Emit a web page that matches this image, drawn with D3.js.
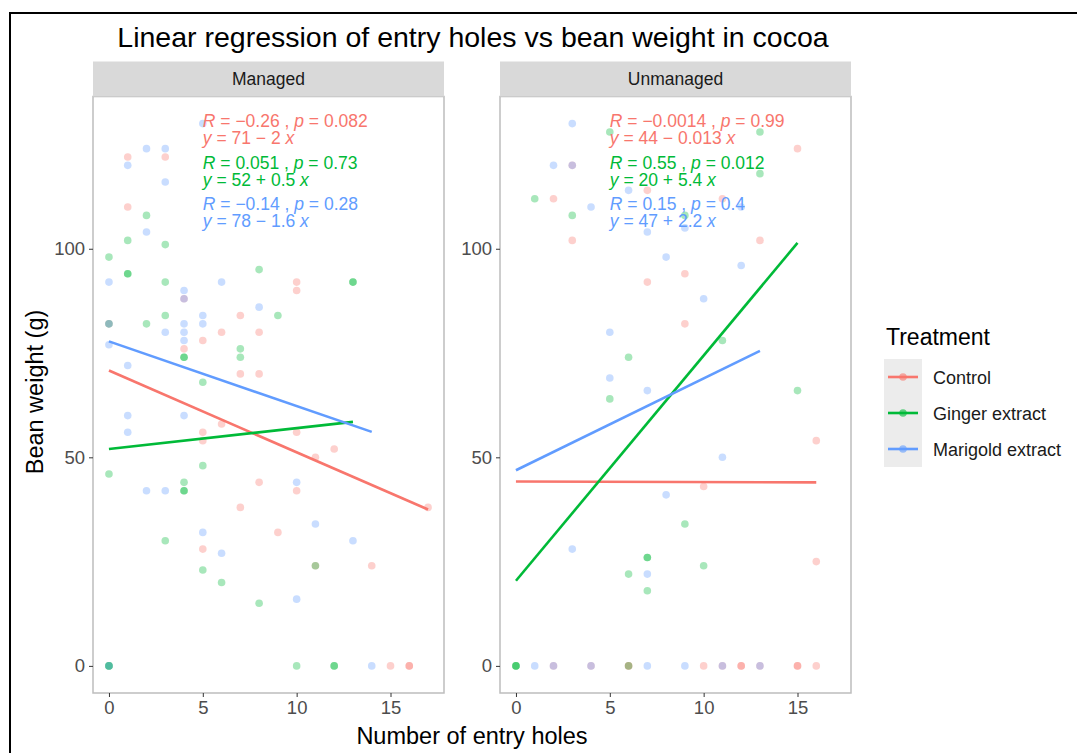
<!DOCTYPE html>
<html>
<head>
<meta charset="utf-8">
<script src="https://cdn.jsdelivr.net/npm/d3@7"></script>
<style>
  body { margin: 0; background: #ffffff; }
  svg text { font-family: "Liberation Sans", Arial, sans-serif; }
</style>
</head>
<body>
<svg id="chart" width="1077" height="753"></svg>
<script>
"use strict"

// treatments, panels, colours
var treatments = ["Control", "Ginger extract", "Marigold extract"];
var panels = ["Managed", "Unmanaged"];
var colors = ["#F8766D", "#00BA38", "#619CFF"];

var xTicks = [0, 5, 10, 15];
var yTicks = [0, 50, 100];

// managed points [holes, weight]
var managedControl = [[1,122],[3,122],[1,110],[10,92],[10,90],[7,84],[4,88],[5,78],[6,80],[8,80],[7,70],[8,70],
    [5,56],[5,54],[6,58],[10,56],[12,52],[11,50],[8,44],[10,42],[7,38],[17,38],[9,32],[5,28],[11,24],[14,24],
    [15,0],[16,0],[16,0],[0,82],[4,76]];
var managedGinger = [[2,108],[1,102],[3,101],[0,98],[1,94],[1,94],[3,92],[8,95],[13,92],[13,92],[9,84],[3,84],
    [2,82],[0,82],[7,76],[7,74],[4,74],[4,74],[5,68],[5,48],[0,46],[4,44],[4,42],[4,42],[3,30],[5,23],[11,24],
    [6,20],[8,15],[0,0],[0,0],[0,0],[10,0],[12,0],[12,0]];
var managedMarigold = [[5,130],[2,124],[3,124],[3,116],[1,120],[2,104],[0,92],[6,92],[4,90],[4,88],[8,86],[5,84],
    [5,82],[4,82],[4,80],[3,80],[4,78],[0,77],[0,82],[1,72],[1,60],[4,60],[1,56],[2,42],[3,42],[10,44],[5,32],
    [11,34],[13,30],[6,27],[10,16],[14,0],[0,0]];

// unmanaged points [holes, weight]
var unmanagedControl = [[15,124],[2,112],[11,112],[3,102],[13,102],[9,94],[7,92],[9,82],[7,114],[3,120],[16,54],
    [10,43],[16,25],[2,0],[4,0],[6,0],[6,0],[10,0],[11,0],[12,0],[12,0],[13,0],[15,0],[15,0],[16,0]];
var unmanagedGinger = [[5,128],[13,128],[13,118],[1,112],[3,108],[9,108],[6,74],[11,78],[5,64],[15,66],[9,34],
    [7,26],[7,26],[6,22],[7,18],[10,24],[0,0],[0,0],[0,0],[6,0]];
var unmanagedMarigold = [[3,130],[2,120],[3,120],[6,114],[4,110],[12,110],[9,105],[7,104],[8,98],[12,96],[10,88],
    [5,80],[5,69],[7,66],[11,50],[8,41],[3,28],[7,22],[1,0],[2,0],[4,0],[7,0],[9,0],[11,0],[13,0]];

// fitted lines per panel: intercept, slope, last x
var managedIntercepts = [70.8, 52, 77.8];
var managedSlopes = [-1.96, 0.5, -1.55];
var managedXMax = [17, 13, 14];
var unmanagedIntercepts = [44.2, 20.4, 46.9];
var unmanagedSlopes = [-0.013, 5.4, 2.2];
var unmanagedXMax = [16, 15, 13];

// correlation labels
var managedR = ["\u22120.26", "0.051", "\u22120.14"];
var managedP = ["0.082", "0.73", "0.28"];
var managedEq = ["71 \u2212 2", "52 + 0.5", "78 \u2212 1.6"];
var unmanagedR = ["\u22120.0014", "0.55", "0.15"];
var unmanagedP = ["0.99", "0.012", "0.4"];
var unmanagedEq = ["44 \u2212 0.013", "20 + 5.4", "47 + 2.2"];
var labelX = 5;
var labelY = [128.5, 118.5, 108.5];

var PANEL_X = [93, 500];
var PANEL_W = 351;
var PANEL_TOP = 96.5;
var PANEL_H = 596.5;
var STRIP_H = 35;

var svg = d3.select("#chart");

var x = d3.scaleLinear().domain([-0.85, 17.85]).range([0, PANEL_W]);
var y = d3.scaleLinear().domain([-6.5, 136.5]).range([PANEL_H, 0]);

var panelData = [
    { points: [managedControl, managedGinger, managedMarigold], a: managedIntercepts, b: managedSlopes, xm: managedXMax,
      r: managedR, p: managedP, eq: managedEq },
    { points: [unmanagedControl, unmanagedGinger, unmanagedMarigold], a: unmanagedIntercepts, b: unmanagedSlopes, xm: unmanagedXMax,
      r: unmanagedR, p: unmanagedP, eq: unmanagedEq }
];

// frame round the whole picture
svg.append("rect").attr("x", 10).attr("y", 13).attr("width", 1100).attr("height", 800)
    .attr("fill", "none").attr("stroke", "#000").attr("stroke-width", 2);

svg.append("text").attr("x", 473).attr("y", 47).attr("text-anchor", "middle")
    .attr("font-size", 28.5).attr("fill", "#000")
    .text("Linear regression of entry holes vs bean weight in cocoa");

panels.forEach(function(name, k) {

    var d = panelData[k];
    var g = svg.append("g").attr("transform", "translate(" + PANEL_X[k] + "," + PANEL_TOP + ")");

    // strip
    svg.append("rect").attr("x", PANEL_X[k]).attr("y", PANEL_TOP - STRIP_H).attr("width", PANEL_W).attr("height", STRIP_H)
        .attr("fill", "#d9d9d9");
    svg.append("text").attr("x", PANEL_X[k] + PANEL_W / 2).attr("y", PANEL_TOP - STRIP_H / 2 + 6)
        .attr("text-anchor", "middle").attr("font-size", 17.5).attr("fill", "#1a1a1a").text(name);

    g.append("rect").attr("width", PANEL_W).attr("height", PANEL_H).attr("fill", "#fff");

    // points
    d.points.forEach(function(pts, i) {
        g.selectAll(".pt" + i).data(pts).enter().append("circle")
            .attr("cx", function(v) { return x(v[0]); })
            .attr("cy", function(v) { return y(v[1]); })
            .attr("r", 3.8)
            .attr("fill", colors[i])
            .attr("fill-opacity", 0.34);
    });

    // regression lines
    treatments.forEach(function(t, i) {
        g.append("line")
            .attr("x1", x(0)).attr("y1", y(d.a[i]))
            .attr("x2", x(d.xm[i])).attr("y2", y(d.a[i] + d.b[i] * d.xm[i]))
            .attr("stroke", colors[i]).attr("stroke-width", 2.6);
    });

    // labels
    treatments.forEach(function(t, i) {
        var t1 = g.append("text").attr("x", x(labelX)).attr("y", y(labelY[i]) - 3)
            .attr("font-size", 17.5).attr("fill", colors[i]);
        t1.append("tspan").attr("font-style", "italic").text("R");
        t1.append("tspan").text(" = " + d.r[i] + " , ");
        t1.append("tspan").attr("font-style", "italic").text("p");
        t1.append("tspan").text(" = " + d.p[i]);
        var t2 = g.append("text").attr("x", x(labelX)).attr("y", y(labelY[i]) + 14)
            .attr("font-size", 17.5).attr("fill", colors[i]);
        t2.append("tspan").attr("font-style", "italic").text("y");
        t2.append("tspan").text(" = " + d.eq[i] + " ");
        t2.append("tspan").attr("font-style", "italic").text("x");
    });

    g.append("rect").attr("width", PANEL_W).attr("height", PANEL_H)
        .attr("fill", "none").attr("stroke", "#bdbdbd").attr("stroke-width", 1.5);

    // axes
    var ax = g.append("g").attr("transform", "translate(0," + PANEL_H + ")")
        .call(d3.axisBottom(x).tickValues(xTicks).tickSize(4).tickPadding(4));
    var ay = g.append("g").call(d3.axisLeft(y).tickValues(yTicks).tickSize(4).tickPadding(4));
    [ax, ay].forEach(function(a) {
        a.select(".domain").remove();
        a.selectAll("line").attr("stroke", "#333");
        a.selectAll("text").attr("font-size", 18.5).attr("fill", "#4d4d4d")
            .attr("font-family", "Liberation Sans, Arial, sans-serif");
    });

});

svg.append("text").attr("x", 472).attr("y", 744).attr("text-anchor", "middle")
    .attr("font-size", 23.5).attr("fill", "#000").text("Number of entry holes");
svg.append("text").attr("transform", "translate(43,392) rotate(-90)").attr("text-anchor", "middle")
    .attr("font-size", 23.5).attr("fill", "#000").text("Bean weight (g)");

// legend
var lg = svg.append("g").attr("transform", "translate(884,0)");
lg.append("text").attr("x", 2).attr("y", 345).attr("font-size", 23).attr("fill", "#000").text("Treatment");
treatments.forEach(function(t, i) {
    var cy = 377 + i * 36;
    lg.append("rect").attr("x", 0).attr("y", cy - 18).attr("width", 38).attr("height", 36).attr("fill", "#ececec");
    lg.append("line").attr("x1", 4).attr("x2", 34).attr("y1", cy).attr("y2", cy)
        .attr("stroke", colors[i]).attr("stroke-width", 2.6);
    lg.append("circle").attr("cx", 19).attr("cy", cy).attr("r", 3.8).attr("fill", colors[i]).attr("fill-opacity", 0.6);
    lg.append("text").attr("x", 49).attr("y", cy + 6.5).attr("font-size", 18).attr("fill", "#1a1a1a").text(t);
});
</script>
</body>
</html>
